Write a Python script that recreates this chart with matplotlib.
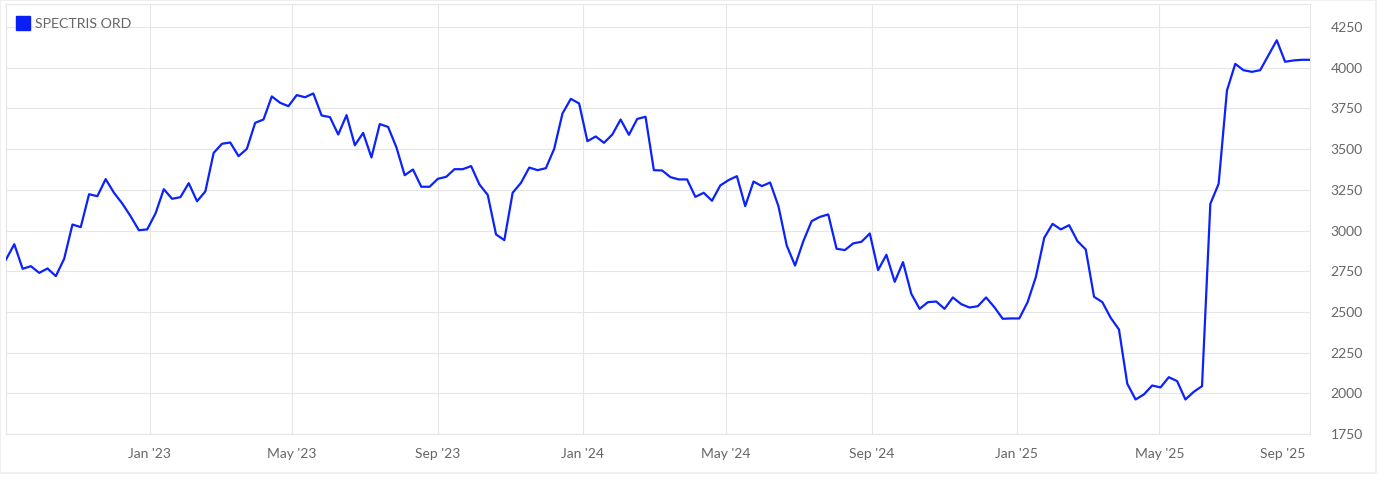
import pandas as pd
import matplotlib
matplotlib.use("Agg")
import matplotlib.pyplot as plt
import matplotlib.dates as mdates
from matplotlib.lines import Line2D
from matplotlib.patches import Rectangle

# weekly closes, Sep 2022 -> Sep 2025
start_date = "2022-09-02"
prices = [
    2822, 2916, 2765, 2781, 2740, 2767, 2720, 2826, 3037, 3021,
    3223, 3211, 3316, 3232, 3166, 3088, 3002, 3007, 3105, 3254,
    3195, 3205, 3291, 3180, 3240, 3477, 3533, 3541, 3457, 3502,
    3662, 3682, 3824, 3785, 3764, 3832, 3819, 3842, 3707, 3697,
    3590, 3709, 3524, 3600, 3449, 3654, 3637, 3512, 3340, 3375,
    3269, 3269, 3318, 3330, 3377, 3377, 3396, 3283, 3219, 2976,
    2941, 3232, 3293, 3387, 3371, 3383, 3502, 3719, 3809, 3781,
    3549, 3578, 3539, 3590, 3682, 3588, 3686, 3699, 3371, 3369,
    3328, 3314, 3314, 3207, 3232, 3183, 3277, 3310, 3334, 3150,
    3301, 3273, 3295, 3150, 2908, 2785, 2935, 3058, 3084, 3099,
    2888, 2880, 2921, 2931, 2982, 2757, 2851, 2685, 2806, 2611,
    2519, 2560, 2564, 2519, 2589, 2548, 2527, 2535, 2589, 2529,
    2458, 2460, 2460, 2560, 2716, 2955, 3041, 3007, 3033, 2935,
    2884, 2593, 2560, 2464, 2392, 2059, 1962, 1993, 2048, 2036,
    2099, 2075, 1962, 2009, 2044, 3164, 3287, 3860, 4024, 3985,
    3975, 3985, 4077, 4169, 4037, 4045, 4049, 4049,
]
dates = pd.date_range(start_date, periods=len(prices), freq="7D")

series_name = "SPECTRIS ORD"
y_ticks = [1750, 2000, 2250, 2500, 2750, 3000, 3250, 3500, 3750, 4000, 4250]
x_ticks = pd.to_datetime([
    "2023-01-01", "2023-05-01", "2023-09-01", "2024-01-01", "2024-05-01",
    "2024-09-01", "2025-01-01", "2025-05-01", "2025-09-01",
])

LINE_BLUE = "#0b22fb"
GRID = "#e6e6e6"
TEXT = "#666666"

plt.rcParams["font.family"] = ["Lato", "DejaVu Sans"]

fig = plt.figure(figsize=(13.79, 4.87), dpi=100)
ax = fig.add_axes([6 / 1379, 53 / 487, 1304 / 1379, 429.7 / 487])

# outer panel border
fig.patches.append(Rectangle((0, 14 / 487), 1376 / 1379, 473 / 487,
                             transform=fig.transFigure, fill=False,
                             edgecolor="#ececec", linewidth=1.2))

ax.plot(dates, prices, color=LINE_BLUE, linewidth=1.6, zorder=3)

ax.set_xlim(dates[0], dates[-1])
ax.set_ylim(1750, 4390)

ax.yaxis.tick_right()
ax.set_yticks(y_ticks)
ax.set_xticks(x_ticks)
ax.xaxis.set_major_formatter(mdates.DateFormatter("%b '%y"))
ax.tick_params(axis="y", length=0, pad=38, labelsize=10, labelcolor=TEXT)
ax.tick_params(axis="x", length=0, pad=10, labelsize=10, labelcolor=TEXT)
for lbl in ax.get_yticklabels():
    lbl.set_horizontalalignment("right")
ax.get_xticklabels()[-1].set_horizontalalignment("right")

ax.grid(True, color=GRID, linewidth=0.8)
ax.get_xgridlines()[-1].set_visible(False)
ax.set_axisbelow(True)
for sp in ax.spines.values():
    sp.set_color(GRID)
    sp.set_linewidth(0.8)

handle = Line2D([], [], marker="s", linestyle="none", markersize=9.5,
                color="#0a1ff5")
ax.legend(handles=[handle], labels=[series_name], loc="upper left",
          bbox_to_anchor=(-0.0019, 0.9919), frameon=False, fontsize=10.2,
          labelcolor=TEXT, handletextpad=0.3, borderaxespad=0.35,
          handlelength=1.2)

fig.savefig("out.png", dpi=100)
